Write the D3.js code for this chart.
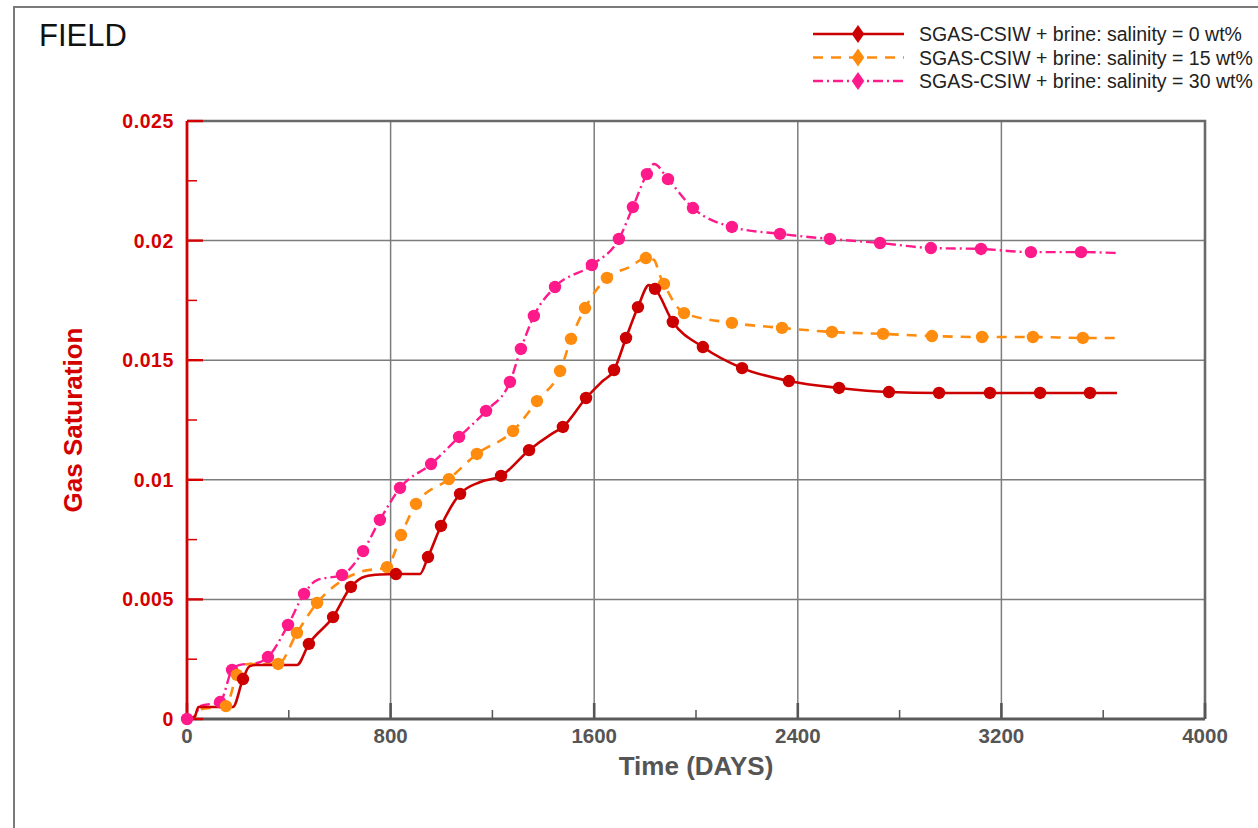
<!DOCTYPE html>
<html><head><meta charset="utf-8">
<script src="https://cdn.jsdelivr.net/npm/d3@7"></script>
<style>html,body{margin:0;padding:0;background:#fff;}svg{display:block;}</style>
</head><body>
<svg id="chart" width="1258" height="828"></svg>
<script>
// ---------- DATA ----------
const xTicks = [0, 800, 1600, 2400, 3200, 4000];
const yTicks = [0, 0.005, 0.01, 0.015, 0.02, 0.025];
const yTickLabels = ["0", "0.005", "0.01", "0.015", "0.02", "0.025"];
const seriesNames = [
  "SGAS-CSIW + brine: salinity = 0 wt%",
  "SGAS-CSIW + brine: salinity = 15 wt%",
  "SGAS-CSIW + brine: salinity = 30 wt%"
];

// salinity 0 wt% : line trace [day, SGAS]
const line0 = [[0,0],[30,0.0001],[45,0.0005],[180,0.0005],[220,0.00167],[245,0.0022],[270,0.00226],[432,0.00226],
  [479,0.00314],[574,0.00426],[644,0.00552],[700,0.00596],[760,0.00604],[821,0.00606],[915,0.00606],[947,0.00677],
  [998,0.00807],[1073,0.00941],[1150,0.0099],[1234,0.01016],[1344,0.01124],[1430,0.0119],[1477,0.01221],[1568,0.01342],
  [1630,0.0141],[1678,0.01459],[1725,0.01593],[1772,0.01722],[1815,0.01814],[1839,0.01798],[1909,0.0166],[2027,0.01555],
  [2181,0.01467],[2365,0.01413],[2562,0.01384],[2758,0.01367],[2955,0.01363],[3155,0.01363],[3352,0.01363],[3548,0.01363],[3654,0.01363]];
const markers0 = [[220,0.00167],[479,0.00314],[574,0.00426],[644,0.00552],[821,0.00606],[947,0.00677],[998,0.00807],
  [1073,0.00941],[1234,0.01016],[1344,0.01124],[1477,0.01221],[1568,0.01342],[1678,0.01459],[1725,0.01593],[1772,0.01722],
  [1839,0.01798],[1909,0.0166],[2027,0.01555],[2181,0.01467],[2365,0.01413],[2562,0.01384],[2758,0.01367],[2955,0.01363],
  [3155,0.01363],[3352,0.01363],[3548,0.01363]];

// salinity 15 wt%
const line15 = [[0,0],[30,0.0001],[50,0.0004],[153,0.00054],[196,0.00184],[240,0.0023],[358,0.0023],[432,0.0036],
  [511,0.00485],[601,0.00573],[680,0.00615],[786,0.00635],[841,0.00769],[900,0.00899],[1029,0.01003],[1139,0.01108],
  [1281,0.01204],[1375,0.01329],[1466,0.01455],[1509,0.01589],[1564,0.01718],[1650,0.01844],[1740,0.0189],[1803,0.01927],
  [1835,0.01919],[1859,0.01852],[1874,0.01819],[1953,0.01697],[2141,0.01656],[2338,0.01635],[2534,0.01618],[2735,0.0161],
  [2927,0.01601],[3124,0.01597],[3324,0.01597],[3520,0.01593],[3654,0.01593]];
const markers15 = [[153,0.00054],[196,0.00184],[358,0.0023],[432,0.0036],[511,0.00485],[786,0.00635],[841,0.00769],
  [900,0.00899],[1029,0.01003],[1139,0.01108],[1281,0.01204],[1375,0.01329],[1466,0.01455],[1509,0.01589],[1564,0.01718],
  [1650,0.01844],[1803,0.01927],[1874,0.01819],[1953,0.01697],[2141,0.01656],[2338,0.01635],[2534,0.01618],[2735,0.0161],
  [2927,0.01601],[3124,0.01597],[3324,0.01597],[3520,0.01593]];

// salinity 30 wt%
const line30 = [[0,0],[30,0.0001],[51,0.00054],[130,0.00071],[177,0.00205],[208,0.00226],[275,0.00234],[318,0.00259],
  [397,0.00393],[460,0.00523],[511,0.00581],[609,0.00602],[692,0.00702],[758,0.00832],[837,0.00966],[959,0.01066],
  [1069,0.01179],[1175,0.01288],[1269,0.01409],[1312,0.01547],[1363,0.01685],[1446,0.01806],[1591,0.01898],[1697,0.02007],
  [1752,0.0214],[1807,0.02278],[1835,0.0232],[1890,0.02257],[1988,0.02136],[2141,0.02057],[2330,0.02028],[2526,0.02007],
  [2723,0.0199],[2923,0.01969],[3120,0.01965],[3316,0.01952],[3513,0.01952],[3654,0.01948]];
const markers30 = [[0,0],[130,0.00071],[177,0.00205],[318,0.00259],[397,0.00393],[460,0.00523],[609,0.00602],[692,0.00702],
  [758,0.00832],[837,0.00966],[959,0.01066],[1069,0.01179],[1175,0.01288],[1269,0.01409],[1312,0.01547],[1363,0.01685],
  [1446,0.01806],[1591,0.01898],[1697,0.02007],[1752,0.0214],[1807,0.02278],[1890,0.02257],[1988,0.02136],[2141,0.02057],
  [2330,0.02028],[2526,0.02007],[2723,0.0199],[2923,0.01969],[3120,0.01965],[3316,0.01952],[3513,0.01952]];

// ---------- LAYOUT ----------
const svg = d3.select("#chart");
const L = 187, R = 1205, T = 121, B = 719;
const x = d3.scaleLinear().domain([0, 4000]).range([L, R]);
const y = d3.scaleLinear().domain([0, 0.025]).range([B, T]);
const FONT = "Liberation Sans, Arial, sans-serif";

const series = [
  {name: seriesNames[0], line: line0, markers: markers0, color: "#cc0000", width: 2.6, dash: null},
  {name: seriesNames[1], line: line15, markers: markers15, color: "#ff8c0f", width: 2.6, dash: "10,8"},
  {name: seriesNames[2], line: line30, markers: markers30, color: "#ff1a8c", width: 2.4, dash: "10,4,2,4"}
];

// outer frame
svg.append("path").attr("d", `M14,828 L14,7 L1258,7`).attr("fill","none").attr("stroke","#7a7a7a").attr("stroke-width",2);

// title
svg.append("text").attr("x", 39).attr("y", 46).attr("font-family", FONT)
  .attr("font-size", 31).attr("fill","#111").text("FIELD");

// grid
const gridColor = "#7d7d7d";
svg.append("g").selectAll("line").data(xTicks.slice(1, -1)).join("line")
  .attr("x1", d => x(d)).attr("x2", d => x(d)).attr("y1", T).attr("y2", B)
  .attr("stroke", gridColor).attr("stroke-width", 1.5);
svg.append("g").selectAll("line").data(yTicks.slice(1, -1)).join("line")
  .attr("x1", L).attr("x2", R).attr("y1", d => y(d)).attr("y2", d => y(d))
  .attr("stroke", gridColor).attr("stroke-width", 1.5);

// top and right borders
svg.append("path").attr("d", `M${L},${T} L${R},${T} L${R},${B}`).attr("fill","none")
  .attr("stroke","#6a6a6a").attr("stroke-width",2.6);

// x axis (ticks inward)
const xMinor = d3.range(400, 4000, 800);
const xAxisG = svg.append("g");
xAxisG.selectAll("line.maj").data(xTicks).join("line").attr("class","maj")
  .attr("x1", d => x(d)).attr("x2", d => x(d)).attr("y1", B).attr("y2", B - 16)
  .attr("stroke", "#555").attr("stroke-width", 2.6);
xAxisG.selectAll("line.min").data(xMinor).join("line").attr("class","min")
  .attr("x1", d => x(d)).attr("x2", d => x(d)).attr("y1", B).attr("y2", B - 9)
  .attr("stroke", "#555").attr("stroke-width", 1.5);
xAxisG.append("line").attr("x1", L).attr("x2", R).attr("y1", B).attr("y2", B)
  .attr("stroke", "#5a5a5a").attr("stroke-width", 2.8);
xAxisG.selectAll("text").data(xTicks).join("text")
  .attr("x", d => x(d)).attr("y", 743).attr("text-anchor","middle")
  .attr("font-family", FONT).attr("font-weight","bold")
  .attr("font-size", 20.5).attr("fill","#555").text(d => d3.format("d")(d));
svg.append("text").attr("x", 696).attr("y", 775).attr("text-anchor","middle")
  .attr("font-family", FONT).attr("font-weight","bold")
  .attr("font-size", 26).attr("fill","#555").text("Time (DAYS)");

// y axis (ticks inward, red)
const red = "#d40000";
const yMinor = d3.range(0.0025, 0.025, 0.005);
const yAxisG = svg.append("g");
yAxisG.selectAll("line.maj").data(yTicks).join("line").attr("class","maj")
  .attr("x1", L).attr("x2", L + 16).attr("y1", d => y(d)).attr("y2", d => y(d))
  .attr("stroke", red).attr("stroke-width", 2.4);
yAxisG.selectAll("line.min").data(yMinor).join("line").attr("class","min")
  .attr("x1", L).attr("x2", L + 10).attr("y1", d => y(d)).attr("y2", d => y(d))
  .attr("stroke", red).attr("stroke-width", 1.5);
yAxisG.append("line").attr("x1", L).attr("x2", L).attr("y1", T).attr("y2", B)
  .attr("stroke", red).attr("stroke-width", 2.8);
yAxisG.selectAll("text").data(yTicks).join("text")
  .attr("x", 174).attr("y", d => y(d) + 7).attr("text-anchor","end")
  .attr("font-family", FONT).attr("font-weight","bold").attr("letter-spacing", 0.6)
  .attr("font-size", 19.5).attr("fill", red).text((d, i) => yTickLabels[i]);
svg.append("text").attr("transform", "translate(82,420) rotate(-90)").attr("text-anchor","middle")
  .attr("font-family", FONT).attr("font-weight","bold")
  .attr("font-size", 26).attr("fill", red).text("Gas Saturation");

// lines
const lineGen = d3.line().x(d => x(d[0])).y(d => y(d[1])).curve(d3.curveMonotoneX);
const plotG = svg.append("g");
series.slice().reverse().forEach(s => {
  plotG.append("path").datum(s.line).attr("d", lineGen).attr("fill","none")
    .attr("stroke", s.color).attr("stroke-width", s.width)
    .attr("stroke-dasharray", s.dash).attr("stroke-linejoin","round");
});
series.slice().reverse().forEach(s => {
  plotG.append("g").selectAll("circle").data(s.markers).join("circle")
    .attr("cx", d => x(d[0])).attr("cy", d => y(d[1])).attr("r", 6.2).attr("fill", s.color);
});

// legend
const legG = svg.append("g");
const legY = [34, 57.5, 81];
const diamond = d3.symbol().type(d3.symbolDiamond).size(95);
series.forEach((s, i) => {
  legG.append("line").attr("x1", 813).attr("x2", 904).attr("y1", legY[i]).attr("y2", legY[i])
    .attr("stroke", s.color).attr("stroke-width", s.width).attr("stroke-dasharray", s.dash);
  legG.append("path").attr("d", diamond).attr("transform", `translate(858,${legY[i]}) scale(1.2,1)`)
    .attr("fill", s.color);
  legG.append("text").attr("x", 919).attr("y", legY[i] + 7)
    .attr("font-family", FONT).attr("font-size", 19.5)
    .attr("fill","#222").text(s.name);
});
</script>
</body></html>
